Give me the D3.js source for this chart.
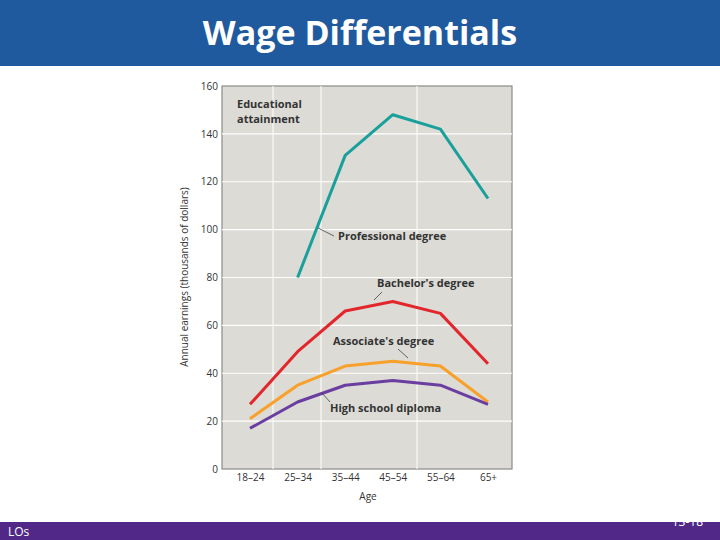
<!DOCTYPE html>
<html><head><meta charset="utf-8">
<script src="https://cdn.jsdelivr.net/npm/d3@7"></script>
<style>body{margin:0;background:#fff}svg{display:block}</style>
</head><body><svg id="c" width="720" height="540"></svg>
<script>
const ages = ["18–24", "25–34", "35–44", "45–54", "55–64", "65+"];
const professional = [null, 80, 131, 148, 142, 113];
const bachelors = [27, 49, 66, 70, 65, 44];
const associates = [21, 35, 43, 45, 43, 28];
const highSchool = [17, 28, 35, 37, 35, 27];
const yTicks = [0, 20, 40, 60, 80, 100, 120, 140, 160];

const svg = d3.select("#c");
const font = "'Open Sans', sans-serif";

// slide header / footer
svg.append("rect").attr("width", 720).attr("height", 66).attr("fill", "#1f5a9e");
svg.append("text").attr("x", 360).attr("y", 45).attr("text-anchor", "middle")
  .attr("fill", "#fff").attr("font-family", font).attr("font-weight", "bold")
  .attr("font-size", 34).text("Wage Differentials");
svg.append("rect").attr("y", 522).attr("width", 720).attr("height", 18).attr("fill", "#512888");
svg.append("text").attr("x", 8).attr("y", 536).attr("fill", "#fff")
  .attr("font-family", font).attr("font-size", 12).text("LOs");
svg.append("text").attr("x", 703).attr("y", 526).attr("text-anchor", "end").attr("fill", "#fff")
  .attr("font-family", font).attr("font-size", 12).text("13-18");

const pLeft = 222, pRight = 512, pTop = 86, pBottom = 469;
const x = d3.scalePoint().domain(ages).range([250, 488]);
const y = d3.scaleLinear().domain([0, 160]).range([pBottom, pTop]);

svg.append("rect").attr("x", pLeft).attr("y", pTop).attr("width", pRight - pLeft).attr("height", pBottom - pTop)
  .attr("fill", "#dcdbd6").attr("stroke", "#8a8a88").attr("stroke-width", 1.2);

// grid
svg.append("g").selectAll("line").data(yTicks.slice(1, -1)).join("line")
  .attr("x1", pLeft).attr("x2", pRight).attr("y1", d => y(d)).attr("y2", d => y(d))
  .attr("stroke", "#fff").attr("stroke-width", 1.2);
svg.append("g").selectAll("line").data([273, 321, 417]).join("line")
  .attr("x1", d => d).attr("x2", d => d).attr("y1", pTop).attr("y2", pBottom)
  .attr("stroke", "#fff").attr("stroke-width", 1);

// axes
const ya = svg.append("g").attr("transform", `translate(${pLeft},0)`)
  .call(d3.axisLeft(y).tickValues(yTicks).tickSize(0).tickPadding(4));
const xa = svg.append("g").attr("transform", `translate(0,${pBottom})`)
  .call(d3.axisBottom(x).tickSize(0).tickPadding(5));
[ya, xa].forEach(a => {
  a.select(".domain").remove();
  a.selectAll("text").attr("font-family", font).attr("font-size", 10).attr("fill", "#333");
});
svg.append("text").attr("x", 368).attr("y", 500).attr("text-anchor", "middle")
  .attr("font-family", font).attr("font-size", 10).attr("fill", "#333").text("Age");
svg.append("text").attr("transform", "translate(188,277) rotate(-90)").attr("text-anchor", "middle")
  .attr("font-family", font).attr("font-size", 10).attr("fill", "#333")
  .text("Annual earnings (thousands of dollars)");

// lines
const line = d3.line().defined(d => d != null).x((d, i) => x(ages[i])).y(d => y(d));
[[professional, "#1aa09a"], [bachelors, "#e2262c"], [associates, "#f7a02a"], [highSchool, "#6a3ea0"]]
  .forEach(([s, c]) => svg.append("path").datum(s).attr("d", line)
    .attr("fill", "none").attr("stroke", c).attr("stroke-width", 3).attr("stroke-linejoin", "round"));

// labels
const lab = (t, xx, yy, s = 11) => svg.append("text").attr("x", xx).attr("y", yy)
  .attr("font-family", font).attr("font-weight", "bold").attr("font-size", s).attr("fill", "#333").text(t);
lab("Educational", 237, 108);
lab("attainment", 237, 123);
lab("Professional degree", 338, 240);
lab("Bachelor's degree", 377, 287);
lab("Associate's degree", 333, 345);
lab("High school diploma", 330, 412);
const lead = (x1, y1, x2, y2) => svg.append("line").attr("x1", x1).attr("y1", y1).attr("x2", x2).attr("y2", y2)
  .attr("stroke", "#444").attr("stroke-width", 0.8);
lead(318, 228, 334, 236);
lead(382, 292, 374, 300);
lead(398, 349, 408, 358);
lead(322, 393, 330, 402);
</script></body></html>
